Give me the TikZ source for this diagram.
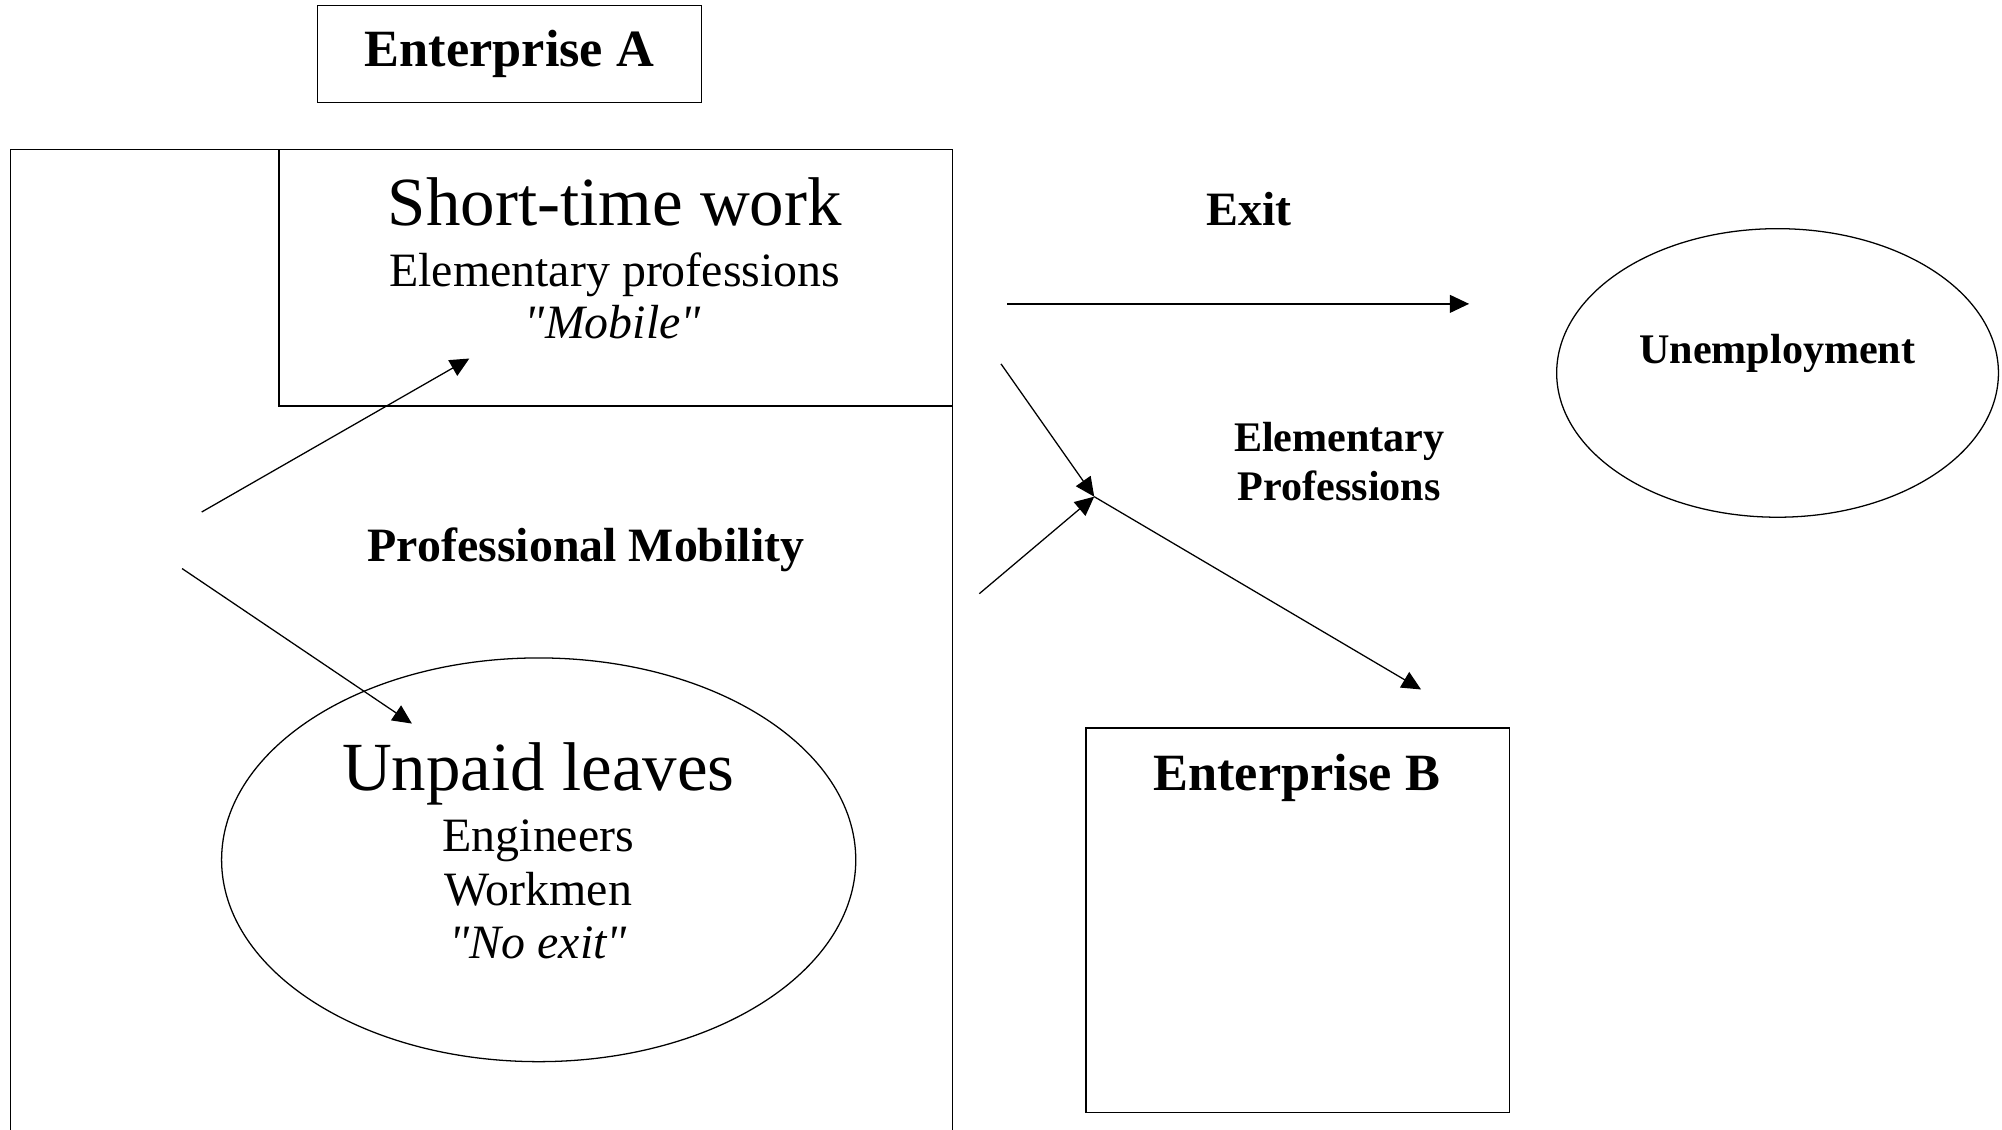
\documentclass[tikz,border=0pt]{standalone}
\usepackage{fontspec}
\setmainfont{Liberation Serif}[Ligatures = TeXOff]
\usetikzlibrary{shapes, arrows.meta, positioning}
\newcommand{\sizebig}{\fontsize{54}{62}\selectfont}
\newcommand{\sizemid}{\fontsize{37.5}{43}\selectfont}
\newcommand{\sizeent}{\fontsize{41}{47}\selectfont}
\newcommand{\sizesmall}{\fontsize{33}{38}\selectfont}
\tikzstyle{box} = [rectangle, draw = black, line width = 1pt, inner sep = 0,
  text centered]
\tikzstyle{oval} = [ellipse, draw = black, line width = 1pt, inner sep = 0]
\tikzstyle{txt} = [anchor = base, inner sep = 0, text centered]
\tikzstyle{flow} = [-{Triangle[length = 15pt, width = 14pt]}, line width = 1pt]

\begin{document}
\begin{tikzpicture}[x = 1pt, y = -1pt, node distance = 0]
      \useasboundingbox (0, 0) rectangle (1568, 885);
      \clip (0, 0) rectangle (1568, 885);
      % enterprise a
      \node [box, minimum width = 301, minimum height = 76] (box-ent-a)
        at (399, 42.3) {\sizeent\bfseries Enterprise A};
      \node [box, minimum width = 738, minimum height = 833] (frame-ent-a)
        at (377, 533.5) {};
      % short-time work
      \node [box, minimum width = 527.4, minimum height = 201] (box-short)
        at (482.3, 217.5) {};
      \node [txt] (txt-short) at (481.5, 176.4) {\sizebig Short-time work};
      \node [txt] (txt-short-prof) at (481.5, 224.4)
        {\sizemid Elementary professions};
      \node [txt] (txt-short-mob) at (480, 265) {\sizemid\itshape "Mobile"};
      % unpaid leaves
      \node [oval, minimum width = 496.7, minimum height = 316.2] (oval-unpaid)
        at (421.9, 673.4) {};
      \node [txt] (txt-unpaid) at (421.6, 618.9) {\sizebig Unpaid leaves};
      \node [txt] (txt-unpaid-eng) at (421.6, 666.9) {\sizemid Engineers};
      \node [txt] (txt-unpaid-work) at (421.6, 709.2) {\sizemid Workmen};
      \node [txt] (txt-unpaid-exit) at (421.6, 751)
        {\sizemid\itshape "No exit"};
      \node [txt] (txt-mobility) at (459, 440)
        {\sizemid\bfseries Professional Mobility};
      % outside
      \node [txt] (txt-exit) at (978, 176.4) {\sizemid\bfseries Exit};
      \node [oval, minimum width = 346, minimum height = 226] (oval-unemp)
        at (1392.2, 292.1) {};
      \node [txt] (txt-unemp) at (1392, 285) {\sizesmall\bfseries Unemployment};
      \node [txt] (txt-elem) at (1049, 354) {\sizesmall\bfseries Elementary};
      \node [txt] (txt-elem-prof) at (1049, 392.3)
        {\sizesmall\bfseries Professions};
      % enterprise b
      \node [box, minimum width = 331.6, minimum height = 301.4] (box-ent-b)
        at (1016.3, 720.8) {};
      \node [txt] (txt-ent-b) at (1015.6, 618.9) {\sizeent\bfseries Enterprise B};

      \coordinate (mob-up-a) at (158, 401);
      \coordinate (mob-up-b) at (367.6, 280.8);
      \coordinate (mob-down-a) at (142.6, 445.3);
      \coordinate (mob-down-b) at (322.6, 566.7);
      \coordinate (exit-a) at (789, 238);
      \coordinate (exit-b) at (1150.6, 238);
      \coordinate (move-up-a) at (784, 285);
      \coordinate (move-down-a) at (767, 465);
      \coordinate (move-joint) at (857, 389);
      \coordinate (move-b) at (1113, 540);

      \draw [flow] (mob-up-a) -- (mob-up-b);
      \draw [flow] (mob-down-a) -- (mob-down-b);
      \draw [flow] (exit-a) -- (exit-b);
      \draw [flow] (move-up-a) -- (move-joint);
      \draw [flow] (move-down-a) -- (move-joint);
      \draw [flow] (move-joint) -- (move-b);
    \end{tikzpicture}
\end{document}
